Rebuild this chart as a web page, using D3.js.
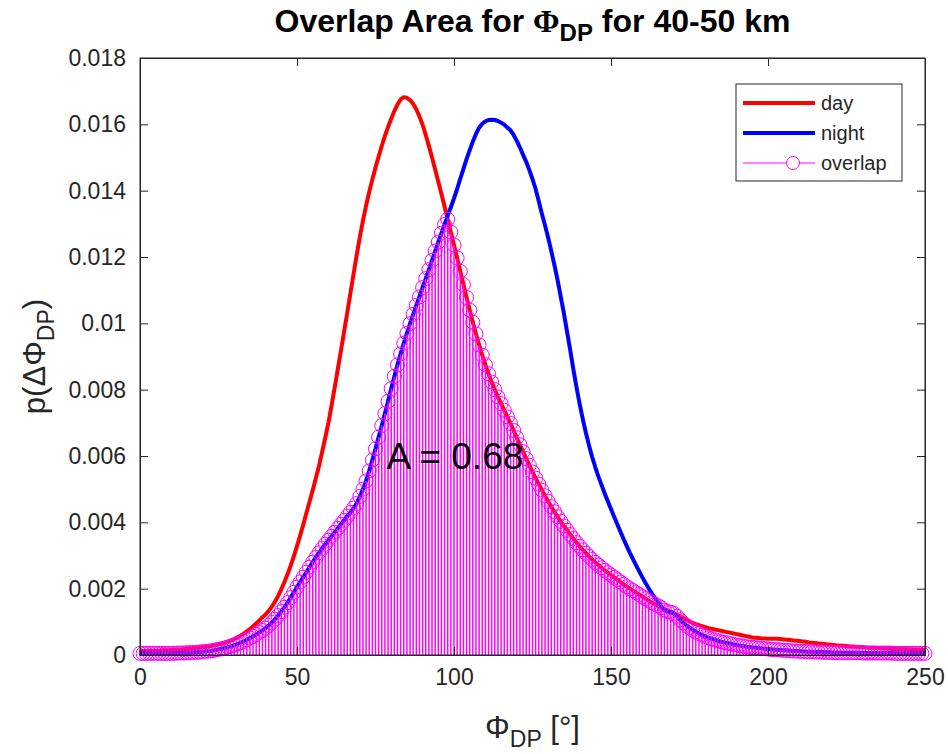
<!DOCTYPE html>
<html>
<head>
<meta charset="utf-8">
<title>Overlap Area for Phi DP</title>
<style>
  body { margin: 0; background: #fff; }
  svg text { font-family: "Liberation Sans", Arial, sans-serif; fill: #262626; }
</style>
</head>
<body>
<div id="chart"></div>
<script src="https://cdn.jsdelivr.net/npm/d3@7/dist/d3.min.js"></script>
<script>
// phi_DP grid in degrees (1 degree bins)
var phiDP = d3.range(0, 251, 1);

// pdf of day data, one value per degree (0..250)
var dayPdf = [
  0.00012,0.00012,0.00012,0.00013,0.00013,0.00013,0.00013,0.00014,0.00014,0.00014,
  0.00015,0.00015,0.00016,0.00016,0.00017,0.00018,0.00019,0.00020,0.00021,0.00022,
  0.00023,0.00024,0.00026,0.00028,0.00030,0.00032,0.00034,0.00037,0.00040,0.00044,
  0.00048,0.00053,0.00058,0.00064,0.00071,0.00078,0.00086,0.00095,0.00104,0.00114,
  0.00122,0.00133,0.00146,0.00161,0.00178,0.00198,0.00220,0.00244,0.00270,0.00298,
  0.00328,0.00360,0.00393,0.00428,0.00462,0.00497,0.00533,0.00570,0.00612,0.00655,
  0.00700,0.00752,0.00806,0.00862,0.00918,0.00975,0.01032,0.01090,0.01148,0.01205,
  0.01260,0.01310,0.01355,0.01396,0.01434,0.01470,0.01503,0.01535,0.01565,0.01592,
  0.01617,0.01640,0.01660,0.01675,0.01682,0.01680,0.01673,0.01662,0.01645,0.01624,
  0.01598,0.01568,0.01535,0.01500,0.01464,0.01427,0.01390,0.01352,0.01314,0.01275,
  0.01236,0.01197,0.01157,0.01117,0.01078,0.01040,0.01003,0.00968,0.00935,0.00904,
  0.00875,0.00848,0.00823,0.00800,0.00778,0.00758,0.00738,0.00718,0.00698,0.00677,
  0.00655,0.00634,0.00613,0.00592,0.00572,0.00552,0.00533,0.00515,0.00497,0.00480,
  0.00463,0.00447,0.00432,0.00417,0.00403,0.00389,0.00376,0.00363,0.00351,0.00339,
  0.00328,0.00317,0.00307,0.00297,0.00288,0.00279,0.00271,0.00263,0.00255,0.00248,
  0.00241,0.00234,0.00227,0.00220,0.00213,0.00206,0.00200,0.00194,0.00188,0.00182,
  0.00176,0.00170,0.00164,0.00158,0.00153,0.00148,0.00143,0.00138,0.00134,0.00130,
  0.00126,0.00121,0.00116,0.00111,0.00106,0.00101,0.00097,0.00093,0.00090,0.00087,
  0.00084,0.00081,0.00079,0.00077,0.00075,0.00073,0.00071,0.00069,0.00067,0.00065,
  0.00063,0.00061,0.00059,0.00057,0.00055,0.00053,0.00052,0.00051,0.00050,0.00050,
  0.00049,0.00049,0.00049,0.00049,0.00048,0.00047,0.00046,0.00045,0.00044,0.00043,
  0.00042,0.00041,0.00040,0.00038,0.00037,0.00036,0.00035,0.00034,0.00033,0.00032,
  0.00031,0.00030,0.00029,0.00028,0.00028,0.00027,0.00026,0.00026,0.00025,0.00024,
  0.00024,0.00023,0.00022,0.00022,0.00021,0.00021,0.00020,0.00020,0.00019,0.00019,
  0.00018,0.00018,0.00017,0.00017,0.00017,0.00016,0.00016,0.00016,0.00015,0.00015,
  0.00015
];

// pdf of night data
var nightPdf = [
  0.00005,0.00005,0.00005,0.00005,0.00005,0.00005,0.00005,0.00005,0.00005,0.00005,
  0.00005,0.00005,0.00006,0.00006,0.00006,0.00007,0.00007,0.00008,0.00008,0.00009,
  0.00010,0.00011,0.00012,0.00013,0.00015,0.00017,0.00019,0.00021,0.00024,0.00027,
  0.00030,0.00033,0.00037,0.00041,0.00046,0.00051,0.00056,0.00062,0.00068,0.00074,
  0.00081,0.00089,0.00098,0.00108,0.00119,0.00131,0.00144,0.00158,0.00173,0.00189,
  0.00205,0.00220,0.00235,0.00250,0.00265,0.00280,0.00294,0.00308,0.00321,0.00334,
  0.00346,0.00358,0.00370,0.00382,0.00394,0.00406,0.00418,0.00430,0.00443,0.00457,
  0.00478,0.00500,0.00525,0.00555,0.00588,0.00622,0.00657,0.00692,0.00728,0.00765,
  0.00803,0.00840,0.00875,0.00908,0.00940,0.00970,0.00999,0.01027,0.01054,0.01080,
  0.01108,0.01135,0.01162,0.01190,0.01218,0.01245,0.01272,0.01298,0.01325,0.01350,
  0.01377,0.01405,0.01436,0.01466,0.01495,0.01522,0.01548,0.01571,0.01590,0.01602,
  0.01609,0.01613,0.01614,0.01613,0.01610,0.01605,0.01599,0.01590,0.01582,0.01568,
  0.01550,0.01530,0.01508,0.01487,0.01462,0.01435,0.01405,0.01368,0.01330,0.01295,
  0.01258,0.01217,0.01175,0.01130,0.01080,0.01030,0.00975,0.00920,0.00862,0.00808,
  0.00758,0.00712,0.00670,0.00632,0.00597,0.00566,0.00538,0.00512,0.00487,0.00463,
  0.00440,0.00417,0.00394,0.00372,0.00350,0.00329,0.00308,0.00289,0.00270,0.00252,
  0.00234,0.00217,0.00201,0.00186,0.00172,0.00158,0.00146,0.00135,0.00131,0.00129,
  0.00125,0.00117,0.00106,0.00097,0.00089,0.00082,0.00076,0.00070,0.00065,0.00060,
  0.00056,0.00052,0.00049,0.00046,0.00043,0.00040,0.00038,0.00036,0.00034,0.00032,
  0.00030,0.00028,0.00027,0.00025,0.00024,0.00023,0.00022,0.00021,0.00020,0.00019,
  0.00018,0.00017,0.00016,0.00016,0.00015,0.00014,0.00014,0.00013,0.00012,0.00012,
  0.00011,0.00011,0.00010,0.00010,0.00010,0.00009,0.00009,0.00009,0.00008,0.00008,
  0.00008,0.00007,0.00007,0.00007,0.00007,0.00007,0.00007,0.00007,0.00007,0.00007,
  0.00006,0.00006,0.00006,0.00006,0.00006,0.00006,0.00006,0.00006,0.00006,0.00006,
  0.00005,0.00005,0.00005,0.00005,0.00005,0.00005,0.00005,0.00005,0.00005,0.00005,
  0.00005
];

var xTicks = [0, 50, 100, 150, 200, 250];
var yTicks = [0, 0.002, 0.004, 0.006, 0.008, 0.01, 0.012, 0.014, 0.016, 0.018];
var legendLabels = ["day", "night", "overlap"];
var areaLabel = "A = 0.68";

var width = 948, height = 754;
var margin = {top: 58, right: 23, bottom: 99, left: 140};
var w = width - margin.left - margin.right;
var h = height - margin.top - margin.bottom;

// overlap = point-wise minimum of the two pdfs
var day = phiDP.map(function(d, i) { return {x: d, y: dayPdf[i]}; });
var night = phiDP.map(function(d, i) { return {x: d, y: nightPdf[i]}; });
var overlap = phiDP.map(function(d, i) { return {x: d, y: Math.min(dayPdf[i], nightPdf[i])}; });

var x = d3.scaleLinear().domain([0, 250]).range([0, w]);
var y = d3.scaleLinear().domain([0, 0.018]).range([h, 0]);

var svg = d3.select("#chart").append("svg")
  .attr("width", width)
  .attr("height", height);

// title
var title = svg.append("text")
  .attr("x", margin.left + w / 2)
  .attr("y", 32)
  .attr("text-anchor", "middle")
  .style("font-size", "32px")
  .style("font-weight", "bold")
  .style("fill", "#000");
title.append("tspan").text("Overlap Area for ");
title.append("tspan").style("font-family", "Liberation Serif").text("\u03A6");
title.append("tspan").attr("dy", 9).style("font-size", "24px").text("DP");
title.append("tspan").attr("dy", -9).text(" for 40-50 km");

var g = svg.append("g")
  .attr("transform", "translate(" + margin.left + "," + margin.top + ")");

var line = d3.line()
  .x(function(d) { return x(d.x); })
  .y(function(d) { return y(d.y); });

g.append("path")
  .datum(day)
  .attr("d", line)
  .attr("fill", "none")
  .attr("stroke", "#ff0000")
  .attr("stroke-width", 4)
  .attr("stroke-linejoin", "round");

g.append("path")
  .datum(night)
  .attr("d", line)
  .attr("fill", "none")
  .attr("stroke", "#0000ff")
  .attr("stroke-width", 4)
  .attr("stroke-linejoin", "round");

// stem plot of overlap
g.selectAll(".stem")
  .data(overlap)
  .enter().append("line")
  .attr("class", "stem")
  .attr("x1", function(d) { return x(d.x); })
  .attr("x2", function(d) { return x(d.x); })
  .attr("y1", y(0))
  .attr("y2", function(d) { return y(d.y); })
  .attr("stroke", "#ff00ff")
  .attr("stroke-width", 1.5);

g.selectAll(".mark")
  .data(overlap)
  .enter().append("circle")
  .attr("class", "mark")
  .attr("cx", function(d) { return x(d.x); })
  .attr("cy", function(d) { return y(d.y); })
  .attr("r", 7)
  .attr("fill", "none")
  .attr("stroke", "#ff00ff")
  .attr("stroke-width", 1);

// axes box
var axisColor = "#262626";
g.append("rect")
  .attr("width", w).attr("height", h)
  .attr("fill", "none")
  .attr("stroke", axisColor)
  .attr("stroke-width", 1);

var xAxis = d3.axisBottom(x).tickValues(xTicks).tickSizeInner(-8).tickSizeOuter(0).tickPadding(14);
var yAxis = d3.axisLeft(y).tickValues(yTicks).tickSizeInner(-8).tickSizeOuter(0).tickPadding(14)
  .tickFormat(function(d) { return String(+d.toFixed(3)); });

var gx = g.append("g").attr("transform", "translate(0," + h + ")").call(xAxis);
var gy = g.append("g").call(yAxis);
// mirrored ticks on top and right
var gxTop = g.append("g").call(d3.axisTop(x).tickValues(xTicks).tickSizeInner(-8).tickSizeOuter(0).tickFormat(""));
var gyRight = g.append("g").attr("transform", "translate(" + w + ",0)")
  .call(d3.axisRight(y).tickValues(yTicks).tickSizeInner(-8).tickSizeOuter(0).tickFormat(""));

[gx, gy, gxTop, gyRight].forEach(function(a) {
  a.select(".domain").attr("stroke", axisColor);
  a.selectAll(".tick line").attr("stroke", axisColor);
  a.selectAll(".tick text")
    .style("font-size", "23px")
    .style("font-family", "Liberation Sans, Arial, sans-serif")
    .attr("fill", axisColor);
});

// annotation
g.append("text")
  .attr("x", x(78.5))
  .attr("y", y(0.0056))
  .style("font-size", "37px")
  .style("fill", "#000")
  .text(areaLabel);

// x label
var xl = svg.append("text")
  .attr("x", margin.left + w / 2)
  .attr("y", 738)
  .attr("text-anchor", "middle")
  .style("font-size", "31px");
xl.append("tspan").text("\u03A6");
xl.append("tspan").attr("dy", 9).style("font-size", "23px").text("DP");
xl.append("tspan").attr("dy", -9).text(" [\u00B0]");

// y label
var yl = svg.append("text")
  .attr("transform", "translate(45," + (margin.top + h / 2) + ") rotate(-90)")
  .attr("text-anchor", "middle")
  .style("font-size", "31px");
yl.append("tspan").text("p(\u0394\u03A6");
yl.append("tspan").attr("dy", 9).style("font-size", "23px").text("DP");
yl.append("tspan").attr("dy", -9).text(")");

// legend
var lg = svg.append("g").attr("transform", "translate(736,84)");
lg.append("rect")
  .attr("width", 166).attr("height", 97)
  .attr("fill", "#fff")
  .attr("stroke", axisColor)
  .attr("stroke-width", 1);
var legColors = ["#ff0000", "#0000ff", "#ff00ff"];
legendLabels.forEach(function(lab, i) {
  var ly = 19 + i * 30;
  lg.append("line")
    .attr("x1", 7).attr("x2", 79)
    .attr("y1", ly).attr("y2", ly)
    .attr("stroke", legColors[i])
    .attr("stroke-width", i < 2 ? 4 : 1);
  if (i === 2) {
    lg.append("circle")
      .attr("cx", 57).attr("cy", ly).attr("r", 6.5)
      .attr("fill", "#fff")
      .attr("stroke", "#ff00ff");
  }
  lg.append("text")
    .attr("x", 85).attr("y", ly + 7)
    .style("font-size", "20px")
    .text(lab);
});
</script>
</body>
</html>
